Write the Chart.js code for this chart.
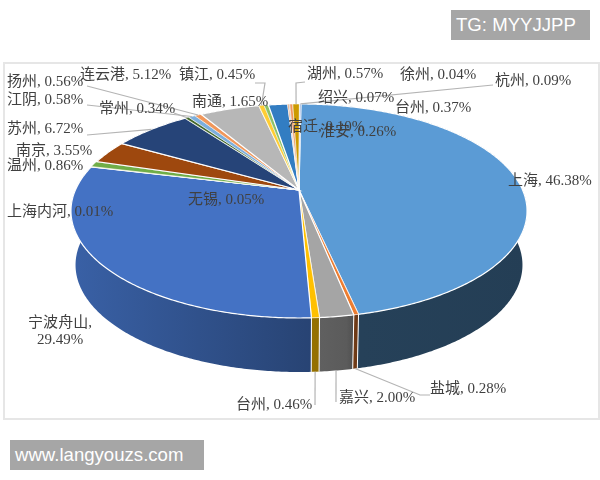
<!DOCTYPE html>
<html>
<head>
<meta charset="utf-8">
<script src="https://cdn.jsdelivr.net/npm/chart.js@4"></script>
<style>
  html, body { margin: 0; padding: 0; background: #fff; }
  #wrap { position: relative; width: 600px; height: 480px; overflow: hidden; }
  #frame { position: absolute; left: 3px; top: 62px; width: 593px; height: 354px; border: 2px solid #e6e6e6; }
  canvas { position: absolute; left: 0; top: 0; filter: blur(0.35px); }
  .tag { position: absolute; background: #a6a6a6; color: #fff; font: 18.6px "Liberation Sans", sans-serif; white-space: nowrap; }
  #tg { left: 451px; top: 10px; width: 134px; height: 30px; line-height: 30px; padding-left: 5px; }
  #site { left: 10px; top: 440px; width: 189px; height: 30px; line-height: 29px; padding-left: 5px; }
</style>
</head>
<body>
<div id="wrap">
  <div id="frame"></div>
  <canvas id="pie" width="600" height="480"></canvas>
  <div class="tag" id="tg">TG: MYYJJPP</div>
  <div class="tag" id="site">www.langyouzs.com</div>
</div>
<script>
// Data, clockwise from the top
const categories = ['上海', '盐城', '嘉兴', '台州', '宁波舟山', '上海内河', '无锡', '温州', '南京', '苏州', '常州',
    '江阴', '扬州', '连云港', '镇江', '台州', '南通', '宿迁', '绍兴', '淮安', '湖州', '徐州', '杭州'];
const shares = [46.38, 0.28, 2.00, 0.46, 29.49, 0.01, 0.05, 0.86, 3.55, 6.72, 0.34,
    0.58, 0.56, 5.12, 0.45, 0.37, 1.65, 0.10, 0.07, 0.26, 0.57, 0.04, 0.09];
const colors = ['#5B9BD5', '#ED7D31', '#A5A5A5', '#FFC000', '#4472C4', '#A5A5A5', '#FFC000', '#70AD47', '#9E480E', '#264478', '#43682B',
    '#7CAFDD', '#F1975A', '#B7B7B7', '#FFCD33', '#8CC168', '#327DC2', '#D26012', '#848484', '#F1975A', '#CC9A00', '#FFCD33', '#698ED0'];

// Label layout: slice index, left x, middle y
const labelSpots = [
    [0, 508, 181], [1, 430, 389], [2, 339, 398], [3, 236, 405], [5, 7, 212], [6, 188, 200],
    [7, 7, 166], [8, 16, 151], [9, 7, 129], [10, 99, 109], [11, 7, 100], [12, 7, 82], [13, 80, 75], [14, 179, 75],
    [15, 395, 108], [16, 192, 102], [17, 288, 127], [18, 318, 98], [19, 320, 132], [20, 307, 74], [21, 400, 75], [22, 495, 81]
];

// Leader lines: slice index, true for the lower rim, points from the label towards the slice
const leaders = [
    [12, false, [[87, 86]]],
    [11, false, [[87, 105]]],
    [9, false, [[87, 135]]],
    [10, false, [[174, 113]]],
    [14, false, [[255, 83], [265, 83]]],
    [20, false, [[305, 82], [296, 83]]],
    [22, false, [[493, 85]]],
    [3, true, [[315, 405]]],
    [2, true, [[336, 402]]],
    [1, true, [[430, 395], [420, 395]]]
];

// Perspective of the tilted disc
const CX = 299, CY = 190, R = 223.6, K = 102.9, TILT = -0.196, DEPTH = 54, LOW_SCALE = 0.98;

function rimPoint(angle, low) {
    const u = Math.cos(angle), v = Math.sin(angle), w = 1 + TILT * v;
    return {
        x: CX + (low ? LOW_SCALE : 1) * R * u / w,
        y: CY + K * v / w + (low ? DEPTH : 0)
    };
}

function tracePath(ctx, from, to, low, first) {
    const steps = Math.max(2, Math.ceil(Math.abs(to - from) / 0.01));
    for (let i = 0; i <= steps; i++) {
        const p = rimPoint(from + (to - from) * i / steps, low);
        if (i === 0 && first) ctx.moveTo(p.x, p.y);
        else ctx.lineTo(p.x, p.y);
    }
}

function shade(hex, f) {
    const n = parseInt(hex.slice(1), 16);
    return `rgb(${Math.round((n >> 16) * f)},${Math.round(((n >> 8) & 255) * f)},${Math.round((n & 255) * f)})`;
}

const disc3d = {
    id: 'disc3d',
    beforeDatasetsDraw(chart) {
        const ctx = chart.ctx;
        const arcs = chart.getDatasetMeta(0).data;
        ctx.save();

        // side wall
        arcs.forEach((arc, i) => {
            const g = ctx.createLinearGradient(76, 0, 527, 0);
            g.addColorStop(0, shade(colors[i], 0.84));
            g.addColorStop(0.6, shade(colors[i], 0.55));
            g.addColorStop(0.63, shade(colors[i], 0.42));
            g.addColorStop(1, shade(colors[i], 0.4));
            ctx.beginPath();
            tracePath(ctx, arc.startAngle, arc.endAngle, false, true);
            tracePath(ctx, arc.endAngle, arc.startAngle, true, false);
            ctx.closePath();
            ctx.fillStyle = g;
            ctx.fill();
        });
        // white edges on the front of the wall
        ctx.strokeStyle = '#fff';
        ctx.lineWidth = 1;
        arcs.forEach((arc, i) => {
            if (Math.sin(arc.startAngle) < 0.2 || shares[i] < 0.1) return;
            const a = rimPoint(arc.startAngle, false), b = rimPoint(arc.startAngle, true);
            ctx.beginPath();
            ctx.moveTo(a.x, a.y);
            ctx.lineTo(b.x, b.y);
            ctx.stroke();
        });

        // top face
        arcs.forEach((arc, i) => {
            ctx.beginPath();
            ctx.moveTo(CX, CY);
            tracePath(ctx, arc.startAngle, arc.endAngle, false, false);
            ctx.closePath();
            ctx.fillStyle = colors[i];
            ctx.fill();
            ctx.strokeStyle = '#fff';
            ctx.lineWidth = shares[i] < 1 ? 0.6 : 1.2;
            ctx.stroke();
        });

        // leader lines
        ctx.strokeStyle = '#b4b4b4';
        ctx.lineWidth = 1.2;
        leaders.forEach(([idx, low, pts]) => {
            const arc = arcs[idx];
            const end = rimPoint((arc.startAngle + arc.endAngle) / 2, low);
            ctx.beginPath();
            pts.forEach((p, k) => k === 0 ? ctx.moveTo(p[0], p[1]) : ctx.lineTo(p[0], p[1]));
            ctx.lineTo(end.x, end.y);
            ctx.stroke();
        });

        // labels
        ctx.font = '15px "Liberation Serif", "Noto Sans CJK SC", serif';
        ctx.fillStyle = '#404040';
        ctx.textBaseline = 'middle';
        ctx.textAlign = 'left';
        labelSpots.forEach(([idx, x, y]) => {
            ctx.fillText(`${categories[idx]}, ${shares[idx].toFixed(2)}%`, x, y);
        });
        ctx.textAlign = 'center';
        ctx.fillText(`${categories[4]},`, 60, 323);
        ctx.fillText(`${shares[4].toFixed(2)}%`, 60, 340);

        ctx.restore();
        return false;
    }
};

new Chart(document.getElementById('pie'), {
    type: 'pie',
    data: {
        labels: categories,
        datasets: [{ data: shares, backgroundColor: colors }]
    },
    options: {
        responsive: false,
        animation: false,
        rotation: 0.6,
        plugins: { legend: { display: false }, tooltip: { enabled: false } }
    },
    plugins: [disc3d]
});
</script>
</body>
</html>
